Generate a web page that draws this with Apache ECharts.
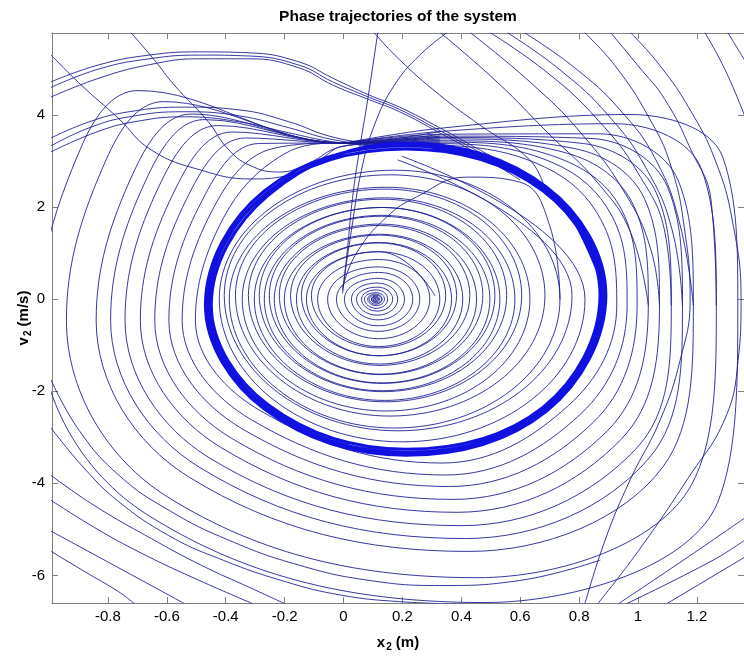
<!DOCTYPE html>
<html>
<head>
<meta charset="utf-8">
<script src="https://cdn.jsdelivr.net/npm/echarts@6/dist/echarts.min.js"></script>
<style>
  html, body { margin: 0; padding: 0; background: #ffffff; }
  #chart { width: 744px; height: 657px; }
</style>
</head>
<body>
<div id="chart"></div>
<script>
// Axis ticks
const xTicks = [-0.8, -0.6, -0.4, -0.2, 0, 0.2, 0.4, 0.6, 0.8, 1, 1.2];
const yTicks = [-6, -4, -2, 0, 2, 4];

// Inner spiral around the stable focus: each ring is [top, right, bottom, left]
const innerSpiral = [
  [[0.199, 3.10], [0.820, 0], [0.199, -3.10], [-0.422, 0]],
  [[0.173, 2.80], [0.735, 0], [0.173, -2.80], [-0.388, 0]],
  [[0.145, 2.43], [0.633, 0], [0.145, -2.43], [-0.344, 0]],
  [[0.139, 2.20], [0.582, 0], [0.139, -2.20], [-0.303, 0]],
  [[0.131, 1.99], [0.531, 0], [0.131, -1.99], [-0.269, 0]],
  [[0.131, 1.82], [0.497, 0], [0.131, -1.82], [-0.235, 0]],
  [[0.126, 1.63], [0.452, 0], [0.126, -1.63], [-0.201, 0]],
  [[0.122, 1.41], [0.405, 0], [0.122, -1.41], [-0.160, 0]],
  [[0.121, 1.23], [0.367, 0], [0.121, -1.23], [-0.126, 0]],
  [[0.119, 1.03], [0.327, 0], [0.119, -1.03], [-0.088, 0]],
  [[0.119, 0.86], [0.293, 0], [0.119, -0.86], [-0.054, 0]],
  [[0.117, 0.70], [0.259, 0], [0.117, -0.70], [-0.024, 0]],
  [[0.119, 0.58], [0.235, 0], [0.119, -0.58], [0.003, 0]],
  [[0.117, 0.45], [0.207, 0], [0.117, -0.45], [0.027, 0]],
  [[0.114, 0.35], [0.184, 0], [0.114, -0.35], [0.044, 0]],
  [[0.114, 0.26], [0.167, 0], [0.114, -0.26], [0.061, 0]],
  [[0.111, 0.20], [0.150, 0], [0.111, -0.20], [0.071, 0]],
  [[0.111, 0.14], [0.139, 0], [0.111, -0.14], [0.082, 0]],
  [[0.109, 0.11], [0.131, 0], [0.109, -0.11], [0.087, 0]],
  [[0.112, 0.085], [0.129, 0], [0.112, -0.085], [0.095, 0]],
  [[0.109, 0.068], [0.122, 0], [0.109, -0.068], [0.095, 0]],
  [[0.109, 0.05], [0.119, 0], [0.109, -0.05], [0.099, 0]],
  [[0.109, 0.034], [0.116, 0], [0.109, -0.034], [0.102, 0]],
  [[0.109, 0.017], [0.112, 0], [0.109, -0.017], [0.106, 0]],
  [[0.109, 0]]
];

// A second, slightly raised pass through the inner region
const innerSpiralB = [
  [[0.185, 3.02], [0.776, 0.08], [0.185, -2.86], [-0.405, 0.08]],
  [[0.158, 2.70], [0.684, 0.08], [0.158, -2.54], [-0.367, 0.08]],
  [[0.141, 2.39], [0.605, 0.08], [0.141, -2.23], [-0.323, 0.08]],
  [[0.134, 2.17], [0.554, 0.08], [0.134, -2.01], [-0.286, 0.08]],
  [[0.131, 1.99], [0.514, 0.08], [0.131, -1.83], [-0.252, 0.08]],
  [[0.128, 1.80], [0.473, 0.08], [0.128, -1.64], [-0.218, 0.08]],
  [[0.124, 1.60], [0.429, 0.08], [0.124, -1.44], [-0.180, 0.08]],
  [[0.121, 1.39], [0.384, 0.08], [0.121, -1.23], [-0.143, 0.08]],
  [[0.119, 1.22], [0.347, 0.08], [0.119, -1.06], [-0.109, 0.08]],
  [[0.119, 1.03], [0.310, 0.08]]
];

// Limit cycle (three passes close together form the heavy band)
const limitCycle = [
  [0.211, 3.39], [0.690, 2.43], [0.891, 0.09], [0.690, -2.43], [0.211, -3.39], [-0.269, -2.39], [-0.469, -0.13], [-0.269, 2.35],
  [0.211, 3.33], [0.684, 2.39], [0.881, 0.09], [0.684, -2.39], [0.211, -3.33], [-0.262, -2.35], [-0.459, -0.13], [-0.262, 2.30],
  [0.211, 3.26], [0.677, 2.35], [0.871, 0.09], [0.677, -2.35], [0.211, -3.26], [-0.255, -2.30], [-0.449, -0.13], [-0.255, 2.26],
  [0.211, 3.39], [0.690, 2.43], [0.891, 0.09]
];

// Large loops that all pass through the pinch near (0, 3.4), outermost first
const outerLoops = [
  [[0.003, 3.39], [0.327, 3.71], [0.973, 4.01], [1.288, 3.08], [1.339, -0.13], [1.271, -4.41], [0.480, -6.59], [-0.667, -4.68], [-1.034, -0.46], [-0.891, 3.30], [-0.698, 4.53]],
  [[0.003, 3.39], [0.327, 3.64], [0.922, 3.81], [1.215, 2.83], [1.266, -0.13], [1.181, -4.04], [0.455, -6.05], [-0.599, -4.29], [-0.941, -0.46], [-0.806, 3.03], [-0.611, 4.29]],
  [[0.003, 3.39], [0.327, 3.58], [0.867, 3.59], [1.137, 2.57], [1.188, -0.13], [1.085, -3.64], [0.427, -5.48], [-0.526, -3.86], [-0.840, -0.46], [-0.714, 2.74], [-0.517, 4.02]],
  [[0.003, 3.39], [0.327, 3.54], [0.840, 3.49], [1.100, 2.44], [1.151, -0.13], [1.038, -3.45], [0.414, -5.20], [-0.490, -3.65], [-0.791, -0.46], [-0.670, 2.60], [-0.472, 3.90]],
  [[0.003, 3.39], [0.327, 3.51], [0.814, 3.38], [1.062, 2.31], [1.113, -0.13], [0.992, -3.26], [0.400, -4.92], [-0.455, -3.45], [-0.742, -0.46], [-0.626, 2.46], [-0.427, 3.77]],
  [[0.003, 3.39], [0.327, 3.48], [0.785, 3.27], [1.022, 2.18], [1.073, -0.13], [0.942, -3.05], [0.386, -4.63], [-0.417, -3.22], [-0.690, -0.46], [-0.578, 2.30], [-0.378, 3.63]],
  [[0.003, 3.39], [0.327, 3.44], [0.759, 3.17], [0.984, 2.05], [1.035, -0.13], [0.896, -2.86], [0.373, -4.35], [-0.381, -3.02], [-0.641, -0.46], [-0.534, 2.16], [-0.333, 3.50]],
  [[0.003, 3.39], [0.327, 3.41], [0.732, 3.06], [0.946, 1.92], [0.997, -0.13], [0.849, -2.67], [0.360, -4.07], [-0.346, -2.81], [-0.593, -0.46], [-0.490, 2.02], [-0.288, 3.38]],
  [[0.003, 3.39], [0.327, 3.38], [0.708, 2.97], [0.912, 1.80], [0.963, -0.13], [0.806, -2.49], [0.347, -3.82], [-0.313, -2.62], [-0.548, -0.46], [-0.449, 1.89], [-0.246, 3.26]],
  [[0.003, 3.39], [0.327, 3.35], [0.683, 2.87], [0.877, 1.69], [0.928, -0.13], [0.764, -2.31], [0.335, -3.56], [-0.281, -2.43], [-0.503, -0.46], [-0.408, 1.76], [-0.205, 3.14]],
  [[0.003, 3.39], [0.211, 3.33]]
];

// Arcs entering from above the plot and running down the right side
const topArcs = [
  [[0.105, 5.78], [0.190, 5.20], [0.327, 4.43], [0.463, 3.78], [0.633, 3.02], [0.684, 2.39]],
  [[0.330, 5.78], [0.524, 4.70], [0.694, 3.61], [0.864, 2.52], [0.976, 1.43], [1.035, -0.13]],
  [[0.432, 5.78], [0.636, 4.70], [0.806, 3.61], [0.956, 2.30], [1.044, 1.07], [1.073, -0.13]],
  [[0.500, 5.78], [0.694, 4.91], [0.864, 3.89], [1.000, 2.74], [1.092, 1.43], [1.113, -0.13]],
  [[0.558, 5.78], [0.735, 4.98], [0.898, 4.00], [1.027, 2.85], [1.116, 1.50], [1.151, -0.13]],
  [[0.616, 5.78], [0.786, 5.02], [0.939, 4.11], [1.061, 3.02], [1.143, 1.61], [1.188, -0.13]],
  [[0.820, 5.78], [0.922, 5.07], [1.034, 3.98], [1.112, 2.89], [1.160, 1.43], [1.177, -0.02], [1.143, -1.33], [1.075, -2.63], [0.973, -3.93], [0.888, -5.24], [0.820, -6.61]],
  [[0.908, 5.78], [1.000, 5.07], [1.092, 4.33], [1.180, 3.24], [1.248, 2.15], [1.266, -0.13]],
  [[0.976, 5.78], [1.075, 5.07], [1.177, 4.11], [1.262, 3.02], [1.320, 1.72], [1.350, -0.02], [1.340, -1.33], [1.296, -2.59], [1.170, -3.89], [1.000, -5.48], [0.864, -6.61]],
  [[1.228, 5.78], [1.296, 4.98], [1.361, 4.00]],
  [[1.306, 5.78], [1.361, 5.20]]
];

// Upper arcs near v = 5 and the bundle near v = 4 on the left
const upperArcs = [
  [[-0.993, 4.72], [-0.830, 5.09], [-0.660, 5.30], [-0.490, 5.37], [-0.320, 5.35], [-0.150, 5.15], [-0.037, 4.80], [0.088, 4.43], [0.190, 4.17], [0.327, 3.72], [0.463, 3.24], [0.599, 2.76]],
  [[-0.993, 4.60], [-0.830, 5.00], [-0.660, 5.22], [-0.490, 5.30], [-0.320, 5.28], [-0.150, 5.08], [-0.037, 4.72], [0.088, 4.38], [0.190, 4.12], [0.327, 3.66], [0.463, 3.19], [0.599, 2.70]],
  [[-0.993, 4.39], [-0.830, 4.80], [-0.660, 5.09], [-0.490, 5.22], [-0.320, 5.22], [-0.150, 5.02], [-0.037, 4.65], [0.088, 4.33], [0.190, 4.07], [0.327, 3.61], [0.463, 3.13], [0.599, 2.59]]
];
const middleArcs = [
  [[-0.993, 3.50], [-0.864, 3.85], [-0.728, 4.07], [-0.541, 4.17], [-0.354, 4.11], [-0.184, 3.85], [-0.048, 3.54], [0.088, 3.39], [0.224, 3.35]],
  [[-0.993, 3.33], [-0.864, 3.72], [-0.728, 3.96], [-0.541, 4.07], [-0.354, 3.98], [-0.184, 3.72], [-0.048, 3.48], [0.088, 3.35]],
  [[-0.993, 3.20], [-0.830, 3.65], [-0.694, 3.87], [-0.541, 3.96], [-0.354, 3.85], [-0.184, 3.61], [-0.048, 3.43], [0.088, 3.33]]
];

// Steep descents from the top-left that bend into the pinch
const diagonalArcs = [
  [[-0.721, 5.78], [-0.643, 5.20], [-0.575, 4.65], [-0.459, 3.85], [-0.395, 3.28], [-0.320, 2.91], [-0.218, 2.76], [-0.116, 2.96], [-0.014, 3.30], [0.122, 3.39]],
  [[-0.993, 5.30], [-0.891, 4.65], [-0.765, 3.93], [-0.653, 3.24], [-0.483, 2.80], [-0.313, 2.61], [-0.201, 2.67], [-0.088, 3.00], [0.003, 3.33], [0.156, 3.39]]
];

// Start of the motion at the origin
const startArcs = [
  [[-0.003, 0.13], [0.014, 1.13], [0.031, 2.22], [0.054, 3.24], [0.082, 4.33], [0.116, 5.78]],
  [[-0.003, 0.20], [0.027, 1.50], [0.061, 2.80], [0.105, 3.78], [0.173, 4.65], [0.259, 5.30], [0.350, 5.78]],
  [[-0.003, 0.26], [0.044, 1.00], [0.146, 1.78], [0.248, 2.22], [0.418, 2.65], [0.599, 2.54], [0.700, 1.60], [0.735, 0]]
];

// Pieces of the widest loops seen in the lower corners
const cornerArcs = [
  [[-0.993, -2.80], [-0.881, -3.67], [-0.765, -4.39], [-0.595, -5.13], [-0.425, -5.63], [-0.201, -6.13], [-0.007, -6.43], [0.190, -6.57], [0.429, -6.63]],
  [[-0.993, -5.04], [-0.823, -5.63], [-0.653, -6.22], [-0.541, -6.61]],
  [[-0.993, -5.48], [-0.881, -5.91], [-0.765, -6.35], [-0.711, -6.61]],
  [[-0.993, -3.83], [-0.847, -4.48], [-0.653, -5.20], [-0.483, -5.78], [-0.313, -6.28], [-0.201, -6.61]],
  [[-0.993, -4.37], [-0.830, -5.02], [-0.670, -5.57], [-0.490, -6.11], [-0.310, -6.61]],
  [[-0.993, -1.76], [-0.898, -2.85], [-0.762, -3.83], [-0.592, -4.59], [-0.388, -5.24], [-0.150, -5.78], [0.088, -6.11], [0.327, -6.22], [0.599, -6.11], [0.871, -5.67]],
  [[1.361, -5.24], [1.255, -5.67], [0.963, -6.61]],
  [[1.361, -5.61], [1.099, -6.61]],
  [[1.361, -4.76], [1.177, -5.57], [0.935, -6.61]]
];

const FONT = "'Liberation Sans', Arial, Helvetica, sans-serif";
const THIN = 'rgba(28, 28, 150, 0.88)';
const AXIS_GREY = '#808080';

function trace(data, smooth, width, color, z) {
  return {
    type: 'line',
    data: data,
    smooth: smooth,
    showSymbol: false,
    symbol: 'none',
    silent: true,
    clip: true,
    z: z || 2,
    lineStyle: { width: width, color: color, cap: 'round', join: 'round' }
  };
}

const series = [];
series.push(trace(innerSpiral.flat(), 0.55, 1, THIN));
series.push(trace(innerSpiralB.flat(), 0.55, 1, THIN));
outerLoops.forEach(function (loop, i) {
  const next = outerLoops[i + 1];
  // each loop continues into the next one through the pinch point
  series.push(trace(next ? loop.concat([next[0], next[1]]) : loop, 0.38, 1, THIN));
});
topArcs.forEach(function (a) { series.push(trace(a, 0.45, 1, THIN)); });
upperArcs.forEach(function (a) { series.push(trace(a, 0.45, 1, THIN)); });
middleArcs.forEach(function (a) { series.push(trace(a, 0.45, 1, THIN)); });
diagonalArcs.forEach(function (a) { series.push(trace(a, 0.45, 1, THIN)); });
startArcs.forEach(function (a) { series.push(trace(a, 0.45, 1, THIN)); });
cornerArcs.forEach(function (a) { series.push(trace(a, 0.45, 1, THIN)); });
series.push(trace(limitCycle, 0.375, 3, '#1010e0', 5));

const subRich = {
  v: { fontFamily: FONT, fontWeight: 'bold', fontSize: 15, color: '#000' },
  s: { fontFamily: FONT, fontWeight: 'bold', fontSize: 10, color: '#000', padding: [9, 0, 0, 1] }
};

function xAxisCfg(position, extra) {
  return Object.assign({
    type: 'value',
    min: -0.99,
    max: 1.36,
    position: position,
    axisLine: { onZero: false, lineStyle: { color: AXIS_GREY, width: 1 } },
    axisTick: { inside: true, length: 6, customValues: xTicks, lineStyle: { color: AXIS_GREY, width: 1 } },
    axisLabel: {
      show: position === 'bottom',
      customValues: xTicks,
      color: '#000',
      fontFamily: FONT,
      fontSize: 15,
      margin: 6,
      formatter: function (v) { return String(Math.round(v * 10) / 10); }
    },
    splitLine: { show: false }
  }, extra);
}

function yAxisCfg(position, extra) {
  return Object.assign({
    type: 'value',
    min: -6.6,
    max: 5.78,
    position: position,
    axisLine: { onZero: false, lineStyle: { color: AXIS_GREY, width: 1 } },
    axisTick: { inside: true, length: 6, customValues: yTicks, lineStyle: { color: AXIS_GREY, width: 1 } },
    axisLabel: {
      show: position === 'left',
      customValues: yTicks,
      color: '#000',
      fontFamily: FONT,
      fontSize: 15,
      margin: 7,
      formatter: function (v) { return String(Math.round(v)); }
    },
    splitLine: { show: false }
  }, extra);
}

const chart = echarts.init(document.getElementById('chart'), null, { renderer: 'canvas' });
chart.setOption({
  animation: false,
  backgroundColor: '#ffffff',
  grid: { left: 52, right: 0, top: 33, bottom: 54, containLabel: false, outerBoundsMode: 'none' },
  xAxis: [
    xAxisCfg('bottom', {
      name: '{v|x}{s|2}{v| (m)}',
      nameLocation: 'middle',
      nameGap: 30,
      nameMoveOverlap: false,
      nameTextStyle: { rich: subRich }
    }),
    xAxisCfg('top', {
      name: 'Phase trajectories of the system',
      nameLocation: 'middle',
      nameGap: 8,
      nameMoveOverlap: false,
      nameTextStyle: { fontFamily: FONT, fontWeight: 'bold', fontSize: 15.5, color: '#000' }
    })
  ],
  yAxis: [
    yAxisCfg('left', {
      name: '{v|v}{s|2}{v| (m/s)}',
      nameLocation: 'middle',
      nameRotate: 90,
      nameGap: 19,
      nameMoveOverlap: false,
      nameTextStyle: { rich: subRich }
    }),
    yAxisCfg('right', {})
  ],
  series: series
});
</script>
</body>
</html>
